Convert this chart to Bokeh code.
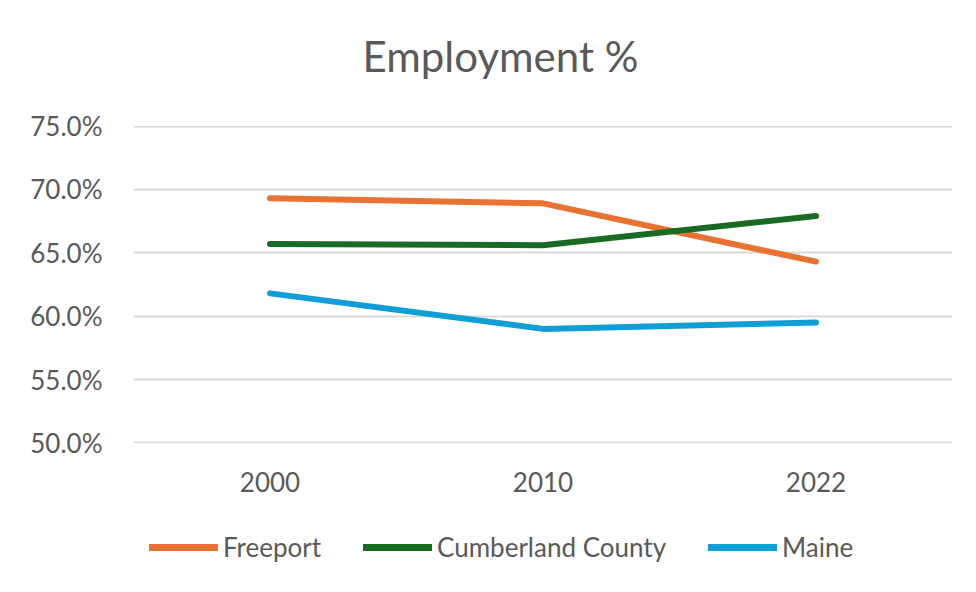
from bokeh.plotting import figure
from bokeh.layouts import column
from bokeh.models import FactorRange, Range1d, FixedTicker, PrintfTickFormatter, Legend, LegendItem, Label
from bokeh.embed import file_html
from bokeh.resources import INLINE

chart_title = "Employment %"
years = ["2000", "2010", "2022"]
freeport = [69.3, 68.9, 64.3]
cumberland = [65.7, 65.6, 67.9]
maine = [61.8, 59.0, 59.5]
series_names = ["Freeport", "Cumberland County", "Maine"]
series_colors = ["#E97132", "#196B24", "#0F9ED5"]
y_ticks = [50, 55, 60, 65, 70, 75]

FONT = "Lato"
TXT = "#595959"


def strip(height):
    f = figure(width=960, height=height, x_range=FactorRange(*years, range_padding=0),
               y_range=Range1d(0, 1), output_backend="svg", toolbar_location=None,
               x_axis_type=None, y_axis_type=None)
    f.min_border_left = 133
    f.min_border_right = 8
    f.min_border_top = 0
    f.min_border_bottom = 0
    f.outline_line_color = None
    f.grid.visible = False
    return f


# title strip
tf = strip(100)
tf.add_layout(Label(x=367, y=45, x_units="screen", y_units="screen", text=chart_title,
                    text_font=FONT, text_font_size="42px", text_color=TXT,
                    text_align="center", text_baseline="middle"))

# main chart
p = figure(width=960, height=400, x_range=FactorRange(*years, range_padding=0),
           y_range=Range1d(49.96, 75.04), output_backend="svg", toolbar_location=None)
p.min_border_left = 133
p.min_border_right = 8
p.min_border_top = 25
p.min_border_bottom = 57
p.outline_line_color = None
p.background_fill_color = "white"
p.border_fill_color = "white"

p.xgrid.grid_line_color = None
p.ygrid.grid_line_color = "#D9D9D9"
p.ygrid.grid_line_width = 2
p.yaxis.ticker = FixedTicker(ticks=y_ticks)
p.yaxis.formatter = PrintfTickFormatter(format="%.1f%%")
p.yaxis.axis_line_color = None
p.yaxis.major_tick_line_color = None
p.yaxis.minor_tick_line_color = None
p.yaxis.major_label_standoff = 25
p.xaxis.axis_line_color = None
p.xaxis.major_tick_line_color = None
p.xaxis.minor_tick_line_color = None
p.xaxis.major_label_standoff = 22
for ax in (p.xaxis, p.yaxis):
    ax.major_label_text_font = FONT
    ax.major_label_text_font_size = "26px"
    ax.major_label_text_color = TXT

series = [freeport, cumberland, maine]
for vals, col in zip(series, series_colors):
    p.line(years, vals, line_color=col, line_width=6, line_cap="round", line_join="round")

# legend strip below the chart (series lines fall outside its view; only the legend shows)
lg = strip(76)
items = []
for vals, name, col in zip(series, series_names, series_colors):
    r = lg.line(years, vals, line_color=col, line_width=7, line_cap="round")
    items.append(LegendItem(label=name, renderers=[r]))
legend = Legend(items=items, orientation="horizontal", location=(16, 13),
                label_text_font=FONT, label_text_font_size="26px", label_text_color=TXT,
                glyph_width=69, glyph_height=28, spacing=42, label_standoff=5,
                border_line_color=None, background_fill_alpha=0, margin=0, padding=0)
lg.add_layout(legend, "center")

layout = column(tf, p, lg, spacing=0)
open("out.html", "w").write(file_html(layout, INLINE))
